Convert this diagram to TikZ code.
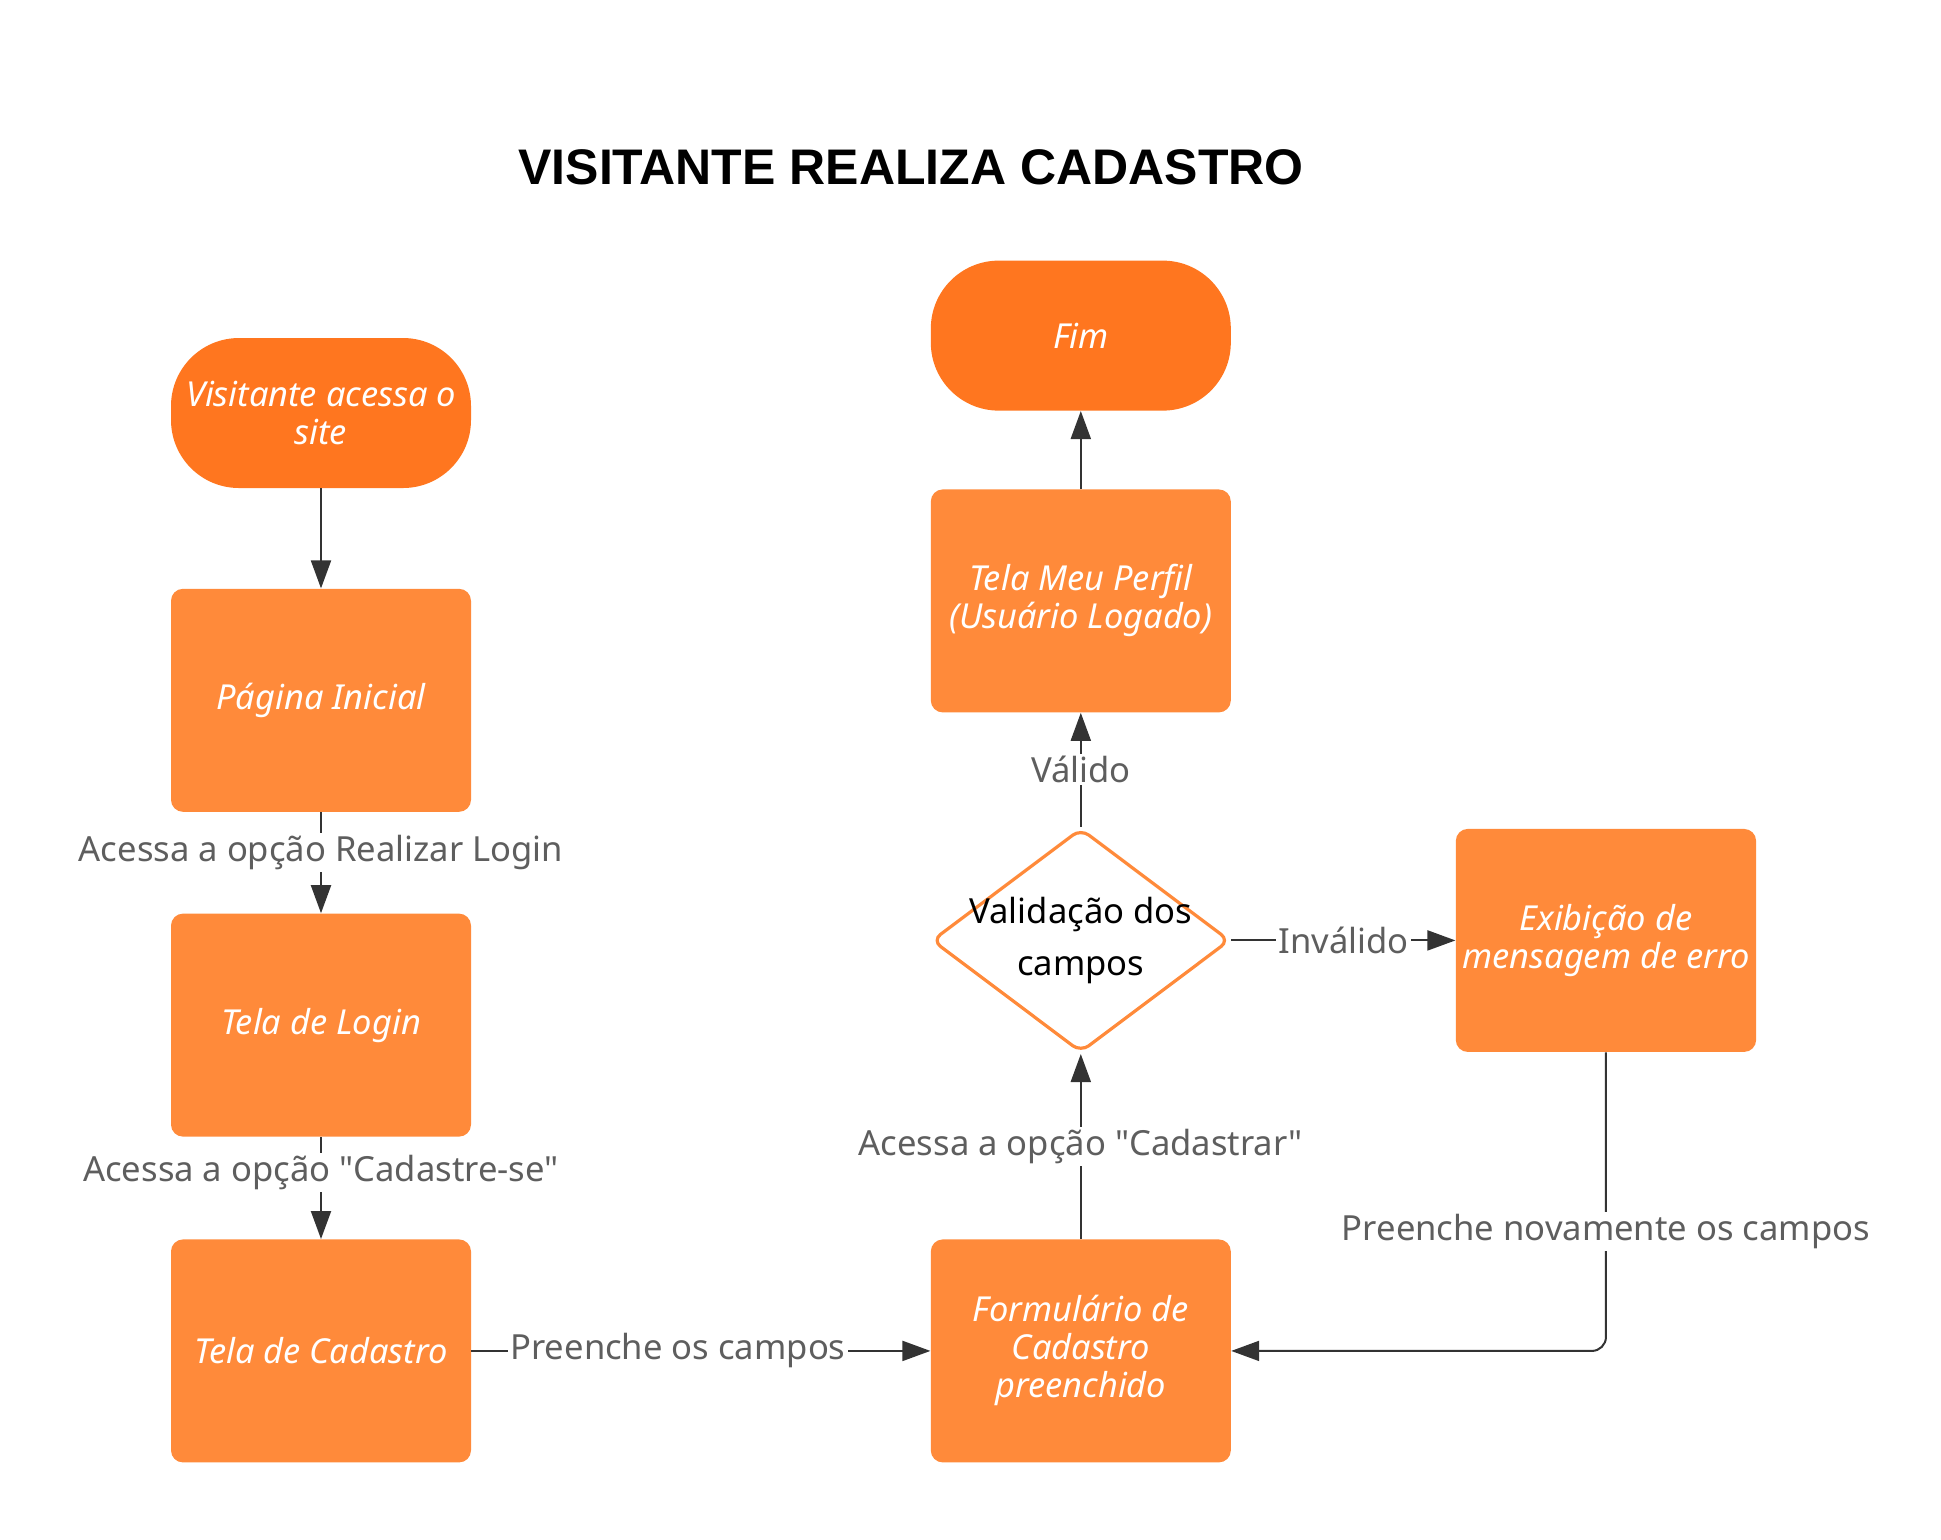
\documentclass[tikz,border=0pt]{standalone}
\usepackage{fontspec}
\setmainfont{Noto Sans}[Ligatures=TeXOff]
\newfontfamily\titulofont{Liberation Sans}
\usetikzlibrary{arrows.meta,positioning,shapes.geometric}

\definecolor{laranja}{HTML}{FF8A3A}
\definecolor{laranjaesc}{HTML}{FF761F}
\definecolor{linha}{HTML}{333333}
\definecolor{cinza}{HTML}{5E5E5E}

\begin{document}
\begin{tikzpicture}[x=0.5pt,y=-0.5pt,>={Triangle[length=14pt,width=10pt]},
    every edge/.style={draw=linha,line width=1pt},
    terminal/.style={fill=laranjaesc,rounded corners=34pt,minimum width=150pt,minimum height=75pt,
        text=white,align=center,font=\fontsize{17.2}{19}\selectfont\itshape},
    box/.style={fill=laranja,rounded corners=6pt,minimum width=150pt,minimum height=111.5pt,
        text=white,align=center,font=\fontsize{17.2}{19}\selectfont\itshape},
    decision/.style={diamond,draw=laranja,line width=1.6pt,fill=white,rounded corners=5pt,
        minimum width=149pt,minimum height=112pt,inner sep=0pt},
    rotulo/.style={fill=white,text=cinza,inner sep=1pt,font=\fontsize{17.3}{20}\selectfont}]

                \useasboundingbox (0,0) rectangle (1941,1539);

                \node[font=\titulofont\fontsize{25}{30}\selectfont\bfseries] (titulo) at (911,167) {VISITANTE REALIZA CADASTRO};

                \node[terminal] (inicio) at (321,413) {Visitante acessa o\\site};

                \node[box] (pagina) [below=50pt of inicio] {Página Inicial};

                \node[box] (login) [below=50.5pt of pagina] {Tela de Login};

                \node[box] (cadastro) [below=51pt of login] {Tela de Cadastro};

                \node[box] (form) [right=229.5pt of cadastro] {Formulário de\\Cadastro\\preenchido};

                \node[decision] (valida) [above=92.5pt of form] {};

                \node[font=\fontsize{17.3}{26}\selectfont,align=center] (validatxt) at (valida) {Validação dos\\campos};

                \node[box] (perfil) [above=57pt of valida] {Tela Meu Perfil\\(Usuário Logado)};

                \node[terminal] (fim) [above=39pt of perfil] {Fim};

                \node[box] (erro) [right=112pt of valida] {Exibição de\\mensagem de erro};

                

                \path[->] (inicio) edge (pagina);

                \path[->] (pagina) edge node[rotulo,pos=0.4] {Acessa a opção Realizar Login} (login);

                \path[->] (login) edge node[rotulo,pos=0.35] {Acessa a opção "Cadastre-se"} (cadastro);

                \path[->] (cadastro) edge node[rotulo,pos=0.45] {Preenche os campos} (form);

                \path[->] (form) edge node[rotulo] {Acessa a opção "Cadastrar"} (valida);

                \path[->] (valida) edge node[rotulo] {Válido} (perfil);

                \path[->] (perfil) edge (fim);

                \path[->] (valida) edge node[rotulo] {Inválido} (erro);

                \draw[->,draw=linha,line width=1pt,rounded corners=7pt] (erro) |- node[rotulo,pos=0.3] {Preenche novamente os campos} (form);

            \end{tikzpicture}
\end{document}
